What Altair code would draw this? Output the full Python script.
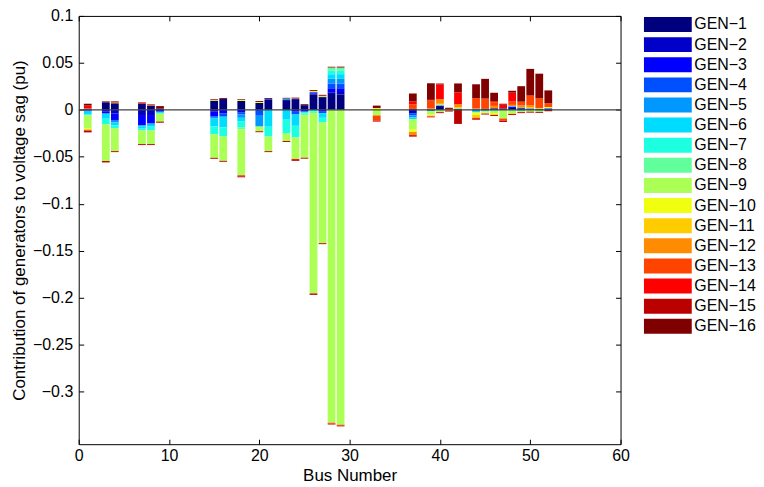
import altair as alt
import pandas as pd

buses = [1, 3, 4, 7, 8, 9, 15, 16, 18, 20, 21, 23, 24, 25, 26, 27, 28, 29, 33,
         37, 39, 40, 41, 42, 44, 45, 46, 47, 48, 49, 50, 51, 52]

gen_names = [f"GEN-{i}" for i in range(1, 17)]
gen_colors = ["#00007F", "#0000C8", "#0000FF", "#0050FF", "#0098FF", "#00DCFF",
              "#1CFFE0", "#60FF9C", "#ACFF54", "#F0FF10", "#FFCC00", "#FF8C00",
              "#FF4400", "#FF0000", "#BB0000", "#800000"]

#        B1      B3      B4      B7      B8      B9      B15     B16     B18     B20     B21
#        B23     B24     B25     B26     B27     B28     B29     B33     B37     B39     B40
#        B41     B42     B44     B45     B46     B47     B48     B49     B50     B51     B52
gen1 = [0.0005, 0.008, 0.007, 0.0065, 0.0045, 0.0015, 0.0098, 0.0115, 0.0095, 0.0074, 0.0105,
        0.0095, 0.0105, 0.005, 0.0165, 0.0135, 0.0168, 0.0165, 0, 0.001, 0, 0.003,
        0, 0, 0, 0, 0, 0, 0.002, 0.0015, 0, 0, 0]
gen2 = [0.0005, -0.0015, -0.004, -0.0065, -0.0065, 0, -0.002, 0, 0, 0, 0,
        0.001, 0.001, 0, 0.001, 0.0005, 0.002, 0.0025, 0, -0.0035, 0, 0.0015,
        0, 0.001, 0, 0.001, 0.0017, 0.0015, 0, 0.001, 0, 0, 0.0015]
gen3 = [0, -0.0025, -0.0075, -0.01, -0.008, -0.0015, -0.0053, -0.004, -0.003, 0, 0,
        0, -0.002, -0.002, 0.001, -0.002, 0.0042, 0.004, 0, 0, 0.0005, 0,
        0, 0, 0.0005, 0, 0, 0, 0.0015, 0, 0.001, 0.001, 0]
gen4 = [-0.001, 0, 0, 0, 0, -0.001, 0, -0.0033, -0.002, -0.0063, 0.001,
        0, -0.003, 0, 0.0005, -0.0015, 0.005, 0.005, 0, -0.0025, 0, 0,
        0, 0, -0.001, 0, 0, 0, 0, 0, 0, 0, 0]
gen5 = [-0.001, 0, -0.002, -0.001, -0.0015, 0, -0.002, 0, -0.0035, -0.0115, 0,
        0.001, 0, 0, 0, 0, 0.005, 0.005, 0, -0.002, -0.0015, 0,
        0, 0, 0, 0, 0, 0, 0, 0, 0.0007, 0, 0]
gen6 = [-0.003, -0.0055, -0.003, -0.0025, -0.002, -0.0015, -0.0084, -0.0115, -0.004, 0, -0.018,
        -0.0105, -0.012, 0, 0, -0.005, 0.005, 0.005, 0, -0.002, 0, 0.0005,
        0, 0.0005, -0.0015, -0.0015, 0, 0, 0.0005, -0.001, 0, -0.001, 0.0005]
gen7 = [-0.001, -0.006, -0.003, -0.002, -0.004, 0, -0.0084, -0.0095, -0.0063, 0, -0.0105,
        -0.0147, -0.0123, -0.002, -0.002, -0.005, 0.004, 0.004, 0, 0, 0, 0,
        0, 0, 0, 0, -0.001, 0, 0, 0, 0, 0, 0]
gen8 = [0, 0, 0, 0, 0, 0, 0, 0, -0.002, 0, 0,
        0.0005, 0, -0.002, -0.002, 0, 0.003, 0.003, 0, 0, 0, 0.0005,
        0, 0, 0, 0, 0, 0, -0.0008, 0, 0, 0, 0]
gen9 = [-0.014, -0.039, -0.0245, -0.0145, -0.0145, -0.0085, -0.025, -0.026, -0.049, -0.005, -0.0155,
        -0.008, -0.023, -0.045, -0.1915, -0.1285, -0.333, -0.335, -0.006, -0.011, -0.0035, -0.0025,
        0, 0, -0.001, -0.0015, -0.0025, -0.0092, -0.0028, -0.0015, -0.002, -0.0012, 0]
gen10 = [-0.0005, 0, 0, 0, 0, 0, 0.001, 0, 0.0013, 0.001, 0,
         0, 0.0005, 0, 0.001, 0.001, 0, 0, 0.002, -0.0025, -0.001, 0,
         0, 0.001, -0.002, -0.001, -0.001, 0, 0, 0.0005, 0, 0, 0.001]
gen11 = [-0.001, 0, 0, 0, 0, 0, 0, 0, 0, 0, 0,
         0, 0, 0, 0, 0, 0, 0, 0, 0, -0.001, 0.001,
         -0.0008, 0, -0.003, 0, -0.001, 0, -0.0008, 0, 0.0013, 0.001, 0]
gen12 = [-0.0005, 0, 0.001, 0, 0, 0, 0, 0, 0, 0, 0,
         0, 0, 0, 0, 0, -0.001, -0.001, 0, -0.0035, 0.001, 0.005,
         0.001, 0.0035, 0.001, 0, 0.0025, 0, 0.0013, 0.0017, 0.0017, 0, 0]
gen13 = [0.0005, 0, 0, 0, 0.001, 0, 0, 0, 0, 0, 0,
         0, 0, 0, 0, 0, 0, 0, -0.0055, 0.005, 0.0085, 0,
         0, 0, 0.011, 0.011, 0.004, -0.0025, 0.0035, 0.004, 0.0105, 0.0105, 0.004]
gen14 = [0.003, 0, 0, 0.001, 0, 0, 0, 0, -0.001, 0, 0,
         0, -0.001, 0, 0, 0, 0, 0, 0, 0.003, -0.001, 0.0155,
         0, 0.0126, -0.001, 0, 0.001, 0.004, 0.0095, 0, 0, 0, 0]
gen15 = [-0.002, -0.0015, -0.001, -0.001, -0.001, -0.0012, -0.001, -0.001, -0.001, -0.001, -0.001,
         -0.001, -0.001, -0.001, -0.0015, -0.001, -0.001, -0.001, -0.001, -0.0015, 0.0015, -0.001,
         -0.001, -0.015, -0.001, -0.001, -0.001, -0.0012, -0.001, -0.001, -0.001, -0.001, -0.0015]
gen16 = [0.002, 0.001, 0.001, 0.0005, 0.0005, 0.0025, 0.0007, 0.001, 0.0007, 0.001, 0.001,
         0.0008, 0.001, 0.001, 0.001, 0.001, 0.001, 0.001, 0.0025, 0.0084, 0.0168, 0.001,
         0.0012, 0.0095, 0.0147, 0.021, 0.009, 0.001, 0.002, 0.0165, 0.0284, 0.026, 0.0137]

gens = [gen1, gen2, gen3, gen4, gen5, gen6, gen7, gen8, gen9, gen10, gen11, gen12,
        gen13, gen14, gen15, gen16]

x_ticks = [0, 10, 20, 30, 40, 50, 60]
y_ticks = [-0.3, -0.25, -0.2, -0.15, -0.1, -0.05, 0, 0.05, 0.1]

rows = []
for k, (name, vals) in enumerate(zip(gen_names, gens), start=1):
    for b, v in zip(buses, vals):
        if v != 0:
            rows.append({"bus": b, "gen": name, "k": k, "value": v})
df = pd.DataFrame(rows)

FONT = "Liberation Sans"
MINUS = "replace(datum.label, '-', '\u2212')"
xscale = alt.Scale(domain=[0, 60], nice=False, zero=False)
yscale = alt.Scale(domain=[-0.356, 0.1], nice=False, zero=False)

bars = alt.Chart(df).transform_stack(
    stack="value", groupby=["bus"], as_=["v0", "v1"],
    sort=[alt.SortField("k", order="ascending")], offset="zero"
).transform_calculate(
    xa="datum.bus - 0.43", xb="datum.bus + 0.43"
).mark_bar(strokeWidth=0).encode(
    x=alt.X("xa:Q", scale=xscale,
            axis=alt.Axis(values=x_ticks, tickSize=5, offset=-5, domain=False,
                          labelPadding=3, labelFlush=False, format="~r",
                          title="Bus Number", titlePadding=4)),
    x2="xb:Q",
    y=alt.Y("v0:Q", scale=yscale,
            axis=alt.Axis(values=y_ticks, tickSize=5, offset=-5, domain=False,
                          labelPadding=6, labelFlush=False, format="~r", labelExpr=MINUS,
                          title="Contribution of generators to voltage sag (pu)",
                          titlePadding=4)),
    y2="v1:Q",
    color=alt.Color("gen:N", scale=alt.Scale(domain=gen_names, range=gen_colors),
                    legend=alt.Legend(title=None, orient="none", legendX=567, legendY=0.6,
                                      padding=0, symbolType="M-1,-1H5.4V1H-1Z",
                                      symbolSize=225, symbolStrokeWidth=0, symbolOpacity=1,
                                      labelFontSize=16, labelFont=FONT, labelColor="black",
                                      labelOffset=35, rowPadding=4.2,
                                      labelExpr=MINUS)),
)

zero_df = pd.DataFrame({"xa": [0], "xb": [60], "y": [0]})
zero = alt.Chart(zero_df).mark_rule(color="#404040", strokeWidth=1.2).encode(
    x=alt.X("xa:Q", scale=xscale,
            axis=alt.Axis(orient="top", values=x_ticks, labels=False, tickSize=5,
                          offset=-5, domain=False, title=None)),
    x2="xb:Q",
    y=alt.Y("y:Q", scale=yscale,
            axis=alt.Axis(orient="right", values=y_ticks, labels=False, tickSize=5,
                          offset=-5, domain=False, title=None)),
)

chart = alt.layer(bars, zero).resolve_axis(x="independent", y="independent").properties(
    width=544, height=430, background="white",
    padding={"left": 2, "top": -1, "right": 0, "bottom": 0}
).configure_view(stroke="black", strokeWidth=1).configure_axis(
    labelFont=FONT, labelFontSize=16, labelColor="black", tickColor="black",
    titleFont=FONT, titleFontSize=17, titleFontWeight="normal", titleColor="black",
    grid=False, tickWidth=1
)

chart.save("out.html", embed_options={"renderer": "svg", "actions": False})
